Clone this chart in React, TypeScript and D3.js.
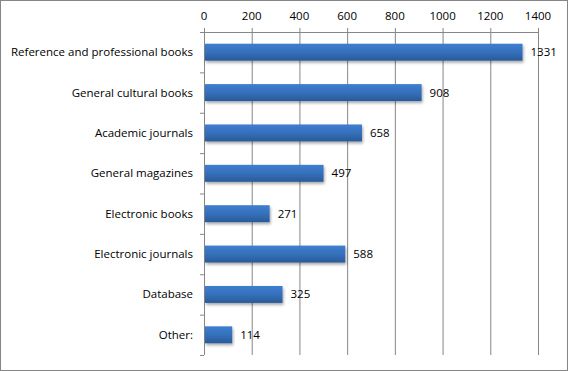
import React from "react";
import * as d3 from "d3";

const categories = [
  "Reference and professional books",
  "General cultural books",
  "Academic journals",
  "General magazines",
  "Electronic books",
  "Electronic journals",
  "Database",
  "Other:",
];
const values = [1331, 908, 658, 497, 271, 588, 325, 114];
const ticks = [0, 200, 400, 600, 800, 1000, 1200, 1400];

const W = 568, H = 371;
const left = 204, right = 538, top = 32, bottom = 355;
const font = "'Open Sans', sans-serif";

export default function App() {
  const x = d3.scaleLinear().domain([0, 1400]).range([left, right]);
  const y = d3.scaleBand().domain(categories).range([top, bottom]).paddingInner(0.58).paddingOuter(0.29);
  const band = d3.scaleBand().domain(categories).range([top, bottom]);
  return (
    <svg width={W} height={H} style={{ position: "absolute", left: 0, top: 0 }}>
      <defs>
        <linearGradient id="bg" x1="0" y1="0" x2="0" y2="1">
          <stop offset="0" stopColor="#3f7fd0" />
          <stop offset="0.5" stopColor="#3570bb" />
          <stop offset="1" stopColor="#2a5a98" />
        </linearGradient>
        <filter id="sh" x="-5%" y="-20%" width="115%" height="160%">
          <feGaussianBlur in="SourceAlpha" stdDeviation="1.5" />
          <feOffset dx="1" dy="2" result="b" />
          <feComponentTransfer><feFuncA type="linear" slope="0.35" /></feComponentTransfer>
          <feMerge><feMergeNode /><feMergeNode in="SourceGraphic" /></feMerge>
        </filter>
      </defs>
      <rect x={0.5} y={0.5} width={W - 1} height={H - 1} fill="#fff" stroke="#868686" />
      {ticks.map((t) => (
        <g key={t}>
          <line x1={x(t) + 0.5} x2={x(t) + 0.5} y1={top - 4} y2={bottom} stroke="#868686" />
          <text x={x(t)} y={20} textAnchor="middle" fontFamily={font} fontSize={11.5} fill="#000">{t}</text>
        </g>
      ))}
      <line x1={left} x2={right + 1} y1={top + 0.5} y2={top + 0.5} stroke="#868686" />
      <line x1={left + 0.5} x2={left + 0.5} y1={top} y2={bottom} stroke="#868686" />
      {categories.map((c, i) => (
        <line key={"t" + i} x1={left - 4} x2={left} y1={band(c)! + band.bandwidth() + 0.5} y2={band(c)! + band.bandwidth() + 0.5} stroke="#868686" />
      ))}
      <line x1={left - 4} x2={left} y1={top + 0.5} y2={top + 0.5} stroke="#868686" />
      {categories.map((c, i) => (
        <g key={c}>
          <rect x={x(0) + 1} y={y(c)!} width={x(values[i]) - x(0)} height={y.bandwidth()} fill="url(#bg)" filter="url(#sh)" />
          <text x={left - 11} y={y(c)! + y.bandwidth() / 2} dy="0.35em" textAnchor="end" fontFamily={font} fontSize={11.5} fill="#000">{c}</text>
          <text x={x(values[i]) + 9} y={y(c)! + y.bandwidth() / 2} dy="0.35em" fontFamily={font} fontSize={11.5} fill="#000">{values[i]}</text>
        </g>
      ))}
    </svg>
  );
}
